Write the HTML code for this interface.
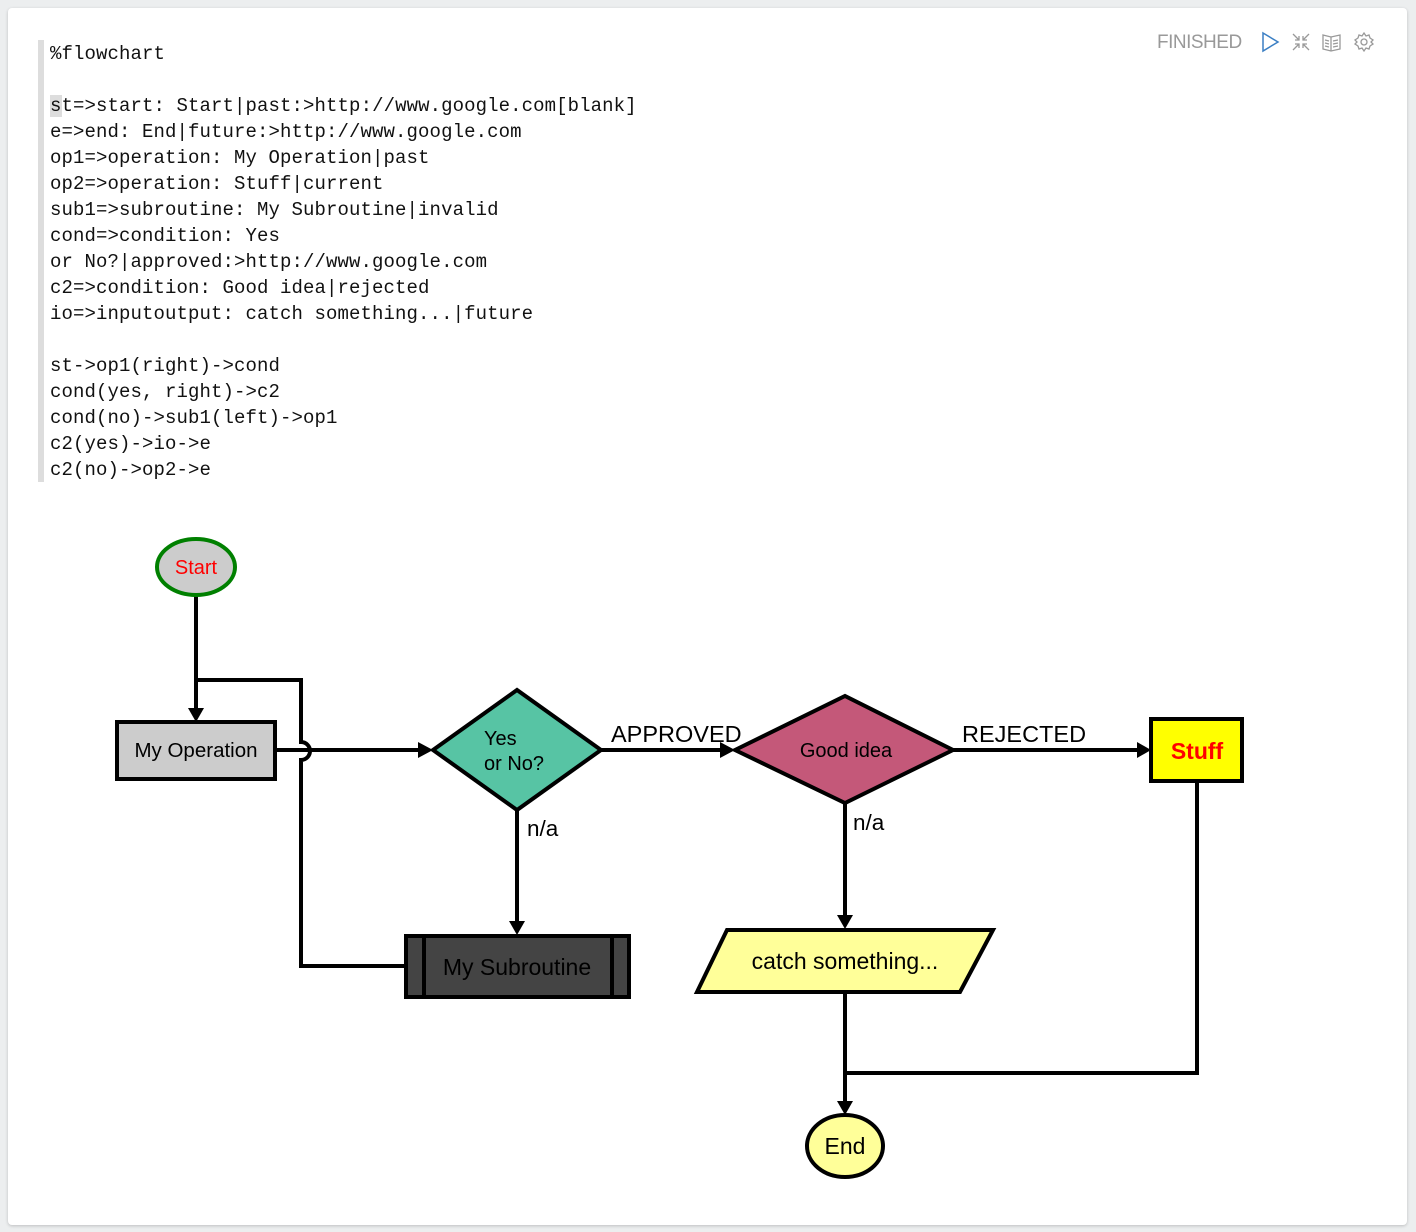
<!DOCTYPE html>
<html><head><meta charset="utf-8"><style>
html,body{margin:0;padding:0;background:#eceeef;width:1416px;height:1232px;overflow:hidden}
.card{position:absolute;left:8px;top:8px;width:1399px;height:1217px;background:#fff;border-radius:4px;box-shadow:0 1px 3px rgba(0,0,0,0.2)}
.bar{position:absolute;left:38px;top:40px;width:6px;height:442px;background:#ddd}
pre{position:absolute;left:50px;top:41px;margin:0;font-family:"Liberation Mono",monospace;font-size:19px;line-height:26px;color:#111;letter-spacing:0.1px}
.cur{background:#ddd}
.st{position:absolute;left:1157px;top:32px;font-family:"Liberation Sans",sans-serif;font-size:19px;color:#999;letter-spacing:-0.5px}
svg{position:absolute;left:0;top:0}
</style></head><body>
<div class="card"></div>
<div class="bar"></div>
<pre>%flowchart

<span class="cur">s</span>t=&gt;start: Start|past:&gt;http://www.google.com[blank]
e=&gt;end: End|future:&gt;http://www.google.com
op1=&gt;operation: My Operation|past
op2=&gt;operation: Stuff|current
sub1=&gt;subroutine: My Subroutine|invalid
cond=&gt;condition: Yes
or No?|approved:&gt;http://www.google.com
c2=&gt;condition: Good idea|rejected
io=&gt;inputoutput: catch something...|future

st-&gt;op1(right)-&gt;cond
cond(yes, right)-&gt;c2
cond(no)-&gt;sub1(left)-&gt;op1
c2(yes)-&gt;io-&gt;e
c2(no)-&gt;op2-&gt;e</pre>
<div class="st">FINISHED</div>
<svg width="1416" height="1232" viewBox="0 0 1416 1232" font-family="Liberation Sans, sans-serif">
<path d="M1263 33 L1278 42 L1263 51 Z" fill="none" stroke="#3b7fc4" stroke-width="1.5"/>
<g stroke="#999" stroke-width="1.3" fill="none">
<path d="M1293 34 L1299 40 M1299 36 L1299 40 L1295 40 M1309 34 L1303 40 M1303 36 L1303 40 L1307 40 M1293 50 L1299 44 M1299 48 L1299 44 L1295 44 M1309 50 L1303 44 M1303 48 L1303 44 L1307 44"/>
<path d="M1323 35 L1331 37 L1340 35 L1340 49 L1331 51 L1323 49 Z M1331 37 L1331 51 M1325 40 L1329 41 M1325 43 L1329 44 M1325 46 L1329 47 M1333 41 L1338 40 M1333 44 L1338 43 M1333 47 L1338 46"/>
<circle cx="1364" cy="42" r="3"/>
<path d="M1364 33 L1366 36 L1369 35 L1370 38 L1373 40 L1371 42 L1373 44 L1370 46 L1369 49 L1366 48 L1364 51 L1362 48 L1359 49 L1358 46 L1355 44 L1357 42 L1355 40 L1358 38 L1359 35 L1362 36 Z"/>
</g>
<g stroke="#000" stroke-width="4" fill="none">
<path d="M196 596 L196 712"/>
<path d="M405 966 L301 966 L301 760 A9 9 0 0 0 301 742 L301 680 L196 680"/>
<path d="M275 750 L424 750"/>
<path d="M601 750 L726 750"/>
<path d="M953 750 L1143 750"/>
<path d="M517 810 L517 925"/>
<path d="M845 803 L845 920"/>
<path d="M845 992 L845 1106"/>
<path d="M1197 781 L1197 1073 L845 1073"/>
</g>
<g fill="#000">
<path d="M188 708 L204 708 L196 722 Z"/>
<path d="M418 742 L418 758 L433 750 Z"/>
<path d="M720 742 L720 758 L735 750 Z"/>
<path d="M1137 742 L1137 758 L1151 750 Z"/>
<path d="M509 921 L525 921 L517 935 Z"/>
<path d="M837 915 L853 915 L845 929 Z"/>
<path d="M837 1101 L853 1101 L845 1115 Z"/>
</g>
<ellipse cx="196" cy="567" rx="39" ry="28" fill="#ccc" stroke="#008000" stroke-width="4"/>
<text x="196" y="574" text-anchor="middle" font-size="20" fill="#f00">Start</text>
<rect x="117" y="722" width="158" height="57" fill="#ccc" stroke="#000" stroke-width="4"/>
<text x="196" y="757" text-anchor="middle" font-size="20.5">My Operation</text>
<path d="M433 750 L517 690 L601 750 L517 810 Z" fill="#57c4a4" stroke="#000" stroke-width="4"/>
<text x="484" y="745" font-size="20">Yes</text>
<text x="484" y="770" font-size="20">or No?</text>
<text x="611" y="742" font-size="23.5">APPROVED</text>
<path d="M735 750 L845 696 L953 750 L845 803 Z" fill="#c45879" stroke="#000" stroke-width="4"/>
<text x="846" y="757" text-anchor="middle" font-size="20">Good idea</text>
<text x="962" y="742" font-size="23.5">REJECTED</text>
<rect x="1151" y="719" width="91" height="62" fill="#ff0" stroke="#000" stroke-width="4"/>
<text x="1197" y="759" text-anchor="middle" font-size="23" font-weight="bold" fill="#f00">Stuff</text>
<text x="527" y="836" font-size="22.5">n/a</text>
<text x="853" y="830" font-size="22.5">n/a</text>
<rect x="406" y="936" width="223" height="61" fill="#444" stroke="#000" stroke-width="4"/>
<path d="M424 936 L424 997 M612 936 L612 997" stroke="#000" stroke-width="4"/>
<text x="517" y="975" text-anchor="middle" font-size="23" fill="#000">My Subroutine</text>
<path d="M697 992 L727 930 L993 930 L960 992 Z" fill="#ffff99" stroke="#000" stroke-width="4"/>
<text x="845" y="969" text-anchor="middle" font-size="23">catch something...</text>
<ellipse cx="845" cy="1146" rx="38" ry="31" fill="#ffff99" stroke="#000" stroke-width="4"/>
<text x="845" y="1154" text-anchor="middle" font-size="23">End</text>
</svg>
</body></html>
